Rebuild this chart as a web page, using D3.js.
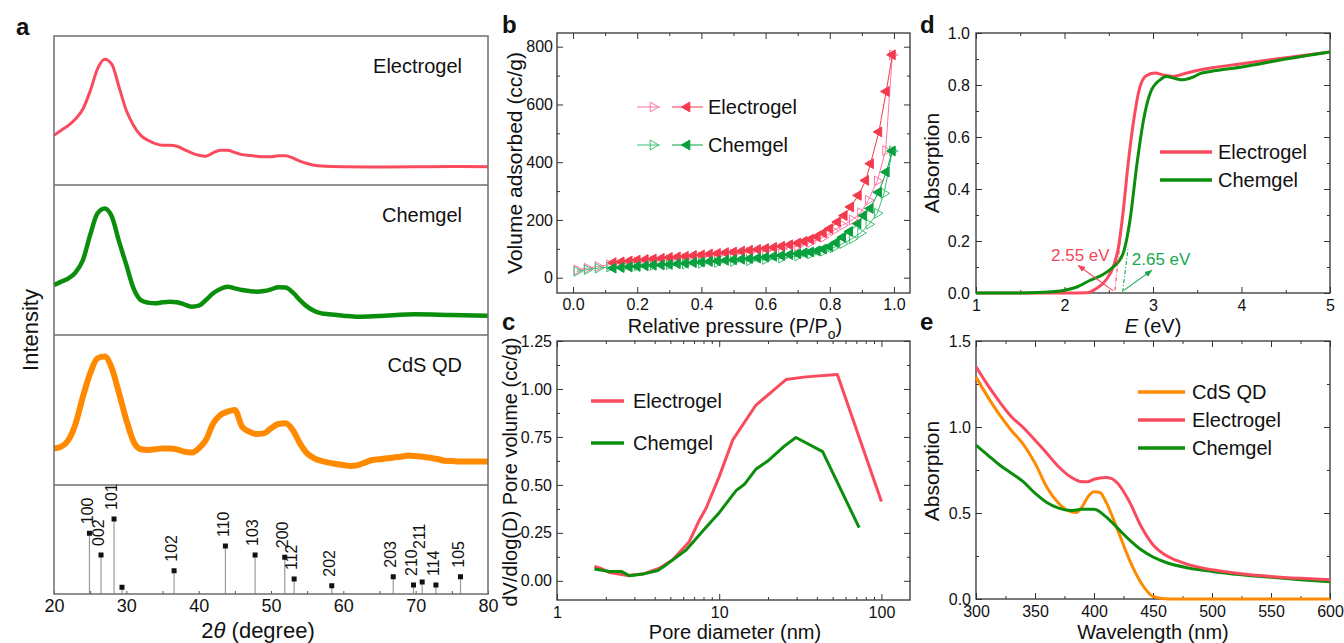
<!DOCTYPE html>
<meta charset="utf-8">
<html>
<head>
<style>
body { margin:0; background:#fff; }
svg { display:block; font-family: Arial, "Liberation Sans", sans-serif; }
</style>
</head>
<body>
<svg id="fig" width="1344" height="643"></svg>
<script src="https://cdn.jsdelivr.net/npm/d3@7/dist/d3.min.js"></script>
<script>

// ---- panel a : XRD ----
var electroAng = [20,21,22,23,24,25,26,27,28,29,30,31,32,33,34,35,36,37,38,39,40,41,42,43,44,45,46,47,48,49,50,51,52,53,54,55,56,57,60,65,70,75,80];
var electroInt = [33.3,36.7,40,44.4,51,63,77.8,84.4,81,65.6,50,40,33.3,30,27.8,26.7,26.7,26,23.8,21.6,20,19.3,21.6,23.3,23.3,21.8,20.4,19.8,19.3,18.9,18.9,19.6,19.6,18.2,16,14.4,13.3,12.7,12.2,12,12.2,12.4,12.2];
var chemAng = [20,21,22,23,24,25,26,27,28,29,30,31,32,33,34,35,36,37,38,39,40,41,42,43,44,45,46,47,48,49,50,51,52,53,54,55,56,57,58,60,62,65,70,75,80];
var chemInt = [33.3,35.6,37.8,41.8,50,66.7,81,84.4,78.9,62.2,46.7,31.1,23.3,21.6,21.1,21.8,22.2,21.8,20.4,18.9,19.6,23.3,27.8,30.7,32.2,31.1,30,29.3,28.9,29.3,30.4,31.8,31.6,28.4,23.3,18.9,16,14.4,13.8,12.9,12.2,12.7,13.8,13.3,12.9];
var cdsAng = [20,21,22,23,24,25,26,27,28,29,30,31,32,33,34,35,36,37,38,39,40,41,42,43,44,45,46,47,48,49,50,51,52,53,54,55,56,57,58,59,60,61,62,63,64,65,66,67,68,69,70,71,72,73,74,75,76,78,80];
var cdsInt = [24.4,25.6,30,41.1,58.9,74.4,84.4,85.6,77.8,61.1,43.3,28.9,23.8,23.3,23.8,24.4,24.4,23.8,22.2,21.6,24.4,30,41,46.7,48.9,50,38.9,35.6,34,34.4,37.8,40.7,41.1,36.7,27.8,21.1,17.8,16,14.9,14,13.3,12.7,13.3,14.9,16.7,17.1,17.8,18.4,18.9,19.6,19.3,18.9,18.2,17.3,16.2,16,15.6,15.6,15.6];

var refPos = [24.9,26.5,28.3,29.4,36.6,43.7,47.8,51.9,53.2,58.4,66.9,69.7,70.9,72.8,76.2];
var refInt = [81,52,100,9,31,64,52,49,20,11,23,12,16,12,23];
var refHkl = ["100","002","101","","102","110","103","200","112","202","203","210","211","114","105"];

// ---- panel b : N2 isotherms ----
var electroAdsP = [0.012,0.044,0.078,0.114,0.16,0.2,0.25,0.3,0.35,0.4,0.45,0.5,0.55,0.6,0.65,0.7,0.74,0.78,0.81,0.84,0.87,0.896,0.92,0.948,0.974,0.995];
var electroAdsV = [27,33,39,45,50,54,58,62,66,72,77,82,88,93,100,110,122,140,162,182,200,225,268,335,440,772];
var electroDesP = [0.995,0.976,0.953,0.927,0.912,0.889,0.865,0.845,0.824,0.8,0.78,0.76,0.74,0.72,0.7,0.675,0.65,0.625,0.6,0.575,0.55,0.525,0.5,0.475,0.45,0.425,0.4,0.375,0.35,0.325,0.3,0.275,0.25,0.225,0.2,0.175,0.15,0.125];
var electroDesV = [772,645,505,395,337,285,245,215,193,170,155,142,133,126,120,114,109,105,101,98,95,92,89,87,84,82,79,77,74,72,70,67,65,63,61,58,55,52];
var chemAdsP = [0.012,0.044,0.078,0.114,0.16,0.2,0.25,0.3,0.35,0.4,0.45,0.5,0.55,0.6,0.65,0.7,0.74,0.78,0.81,0.84,0.87,0.896,0.922,0.948,0.969,0.995];
var chemAdsV = [22,28,33,37,39,41,43,45,47,50,53,56,59,63,68,75,82,92,103,118,135,155,185,223,292,439];
var chemDesP = [0.995,0.976,0.952,0.926,0.906,0.888,0.862,0.84,0.82,0.8,0.78,0.76,0.74,0.72,0.7,0.675,0.65,0.625,0.6,0.575,0.55,0.525,0.5,0.475,0.45,0.425,0.4,0.375,0.35,0.325,0.3,0.275,0.25,0.225,0.2,0.175,0.15,0.125];
var chemDesV = [439,366,296,240,215,187,160,140,122,108,99,93,89,86,83,80,77,74,71,68,66,64,62,60,58,56,54,52,50,48,46,44,43,41,39,37,35,33];

// ---- panel c : pore size distribution ----
var electroPoreD = [1.7,1.85,2.11,2.73,3.38,4.28,5.17,6.55,7.55,8.3,10,12.1,16.8,25.8,34.2,53.5,100];
var electroPoreV = [0.075,0.066,0.043,0.028,0.035,0.066,0.11,0.205,0.317,0.378,0.543,0.733,0.915,1.049,1.063,1.075,0.413];
var chemPoreD = [1.7,2.11,2.49,2.8,3.38,4.18,4.7,6.25,8.3,10,12.7,14.3,16.8,19.9,25.2,29.7,43.4,72.9];
var chemPoreV = [0.062,0.049,0.049,0.026,0.035,0.054,0.083,0.161,0.279,0.355,0.47,0.503,0.581,0.624,0.702,0.747,0.673,0.277];

// ---- panel d : absorption vs energy ----
var electroE = [1,2.0,2.25,2.36,2.48,2.55,2.61,2.66,2.72,2.78,2.85,2.92,3.02,3.12,3.23,3.35,3.5,3.65,4.0,4.5,5.0];
var electroAbsE = [0,0,0.001,0.017,0.055,0.1,0.177,0.305,0.5,0.66,0.79,0.835,0.846,0.838,0.833,0.843,0.856,0.865,0.882,0.905,0.927];
var chemE = [1,1.5,1.76,1.99,2.14,2.29,2.44,2.55,2.66,2.74,2.82,2.89,2.97,3.08,3.15,3.25,3.34,3.45,3.53,3.65,4.02,4.5,5.0];
var chemAbsE = [0,0,0.003,0.01,0.023,0.049,0.072,0.1,0.15,0.28,0.5,0.66,0.77,0.82,0.833,0.825,0.82,0.83,0.844,0.852,0.87,0.9,0.927];

// ---- panel e : absorption vs wavelength ----
var cdsW = [300,310,320,330,340,350,360,370,380,385,390,395,400,405,410,420,430,440,450,460,470,500,600];
var cdsAbs = [1.29,1.175,1.07,0.98,0.9,0.79,0.65,0.557,0.508,0.503,0.537,0.595,0.624,0.619,0.566,0.402,0.228,0.093,0.015,0.002,0,0,0];
var electroW = [300,310,320,330,340,350,360,370,380,390,395,400,410,415,420,430,440,450,460,470,480,500,525,550,575,600];
var electroAbsW = [1.35,1.243,1.146,1.06,0.997,0.924,0.847,0.769,0.711,0.682,0.682,0.696,0.706,0.7,0.673,0.566,0.421,0.315,0.257,0.224,0.2,0.17,0.147,0.131,0.12,0.112];
var chemW = [300,310,320,330,340,350,360,370,380,390,400,410,420,430,440,450,460,480,500,525,550,575,600];
var chemAbsW = [0.895,0.837,0.779,0.731,0.682,0.615,0.561,0.528,0.514,0.522,0.522,0.479,0.412,0.344,0.286,0.244,0.215,0.18,0.16,0.141,0.126,0.112,0.1];

var red = "#fa4b5e", green = "#0b8e0b", orange = "#ff8a00";
var svg = d3.select("#fig");

function txt(x, y, s, size, opts) {
  opts = opts || {};
  var t = svg.append("text").attr("x", x).attr("y", y).attr("font-size", size)
    .attr("fill", opts.fill || "#111").attr("text-anchor", opts.anchor || "start").text(s);
  if (opts.bold) t.attr("font-weight", "bold");
  if (opts.rotate) t.attr("transform", "rotate(-90," + x + "," + y + ")");
  return t;
}

function frame(x, y, xMaj, xMin, yMaj, yMin, xFmt, yFmt, xPad, yPad) {
  var left = x.range()[0], right = x.range()[1], bottom = y.range()[0], top = y.range()[1];
  var g = svg.append("g");
  function ax(axis, tx, ty, vals, size, fmt, pad) {
    var a = g.append("g").attr("transform", "translate(" + tx + "," + ty + ")")
      .call(axis.tickValues(vals).tickSize(-size).tickPadding(pad || 5)
        .tickFormat(fmt || function() { return ""; }));
    a.attr("font-size", 16).attr("font-family", null);
    a.select(".domain").remove();
    a.selectAll("line").attr("stroke", "#333");
    a.selectAll("text").attr("fill", "#111");
  }
  ax(d3.axisBottom(x), 0, bottom, xMaj, 6, xFmt, xPad);
  ax(d3.axisBottom(x), 0, bottom, xMin, 3);
  ax(d3.axisTop(x), 0, top, xMaj, 6);
  ax(d3.axisTop(x), 0, top, xMin, 3);
  ax(d3.axisLeft(y), left, 0, yMaj, 6, yFmt, yPad);
  ax(d3.axisLeft(y), left, 0, yMin, 3);
  ax(d3.axisRight(y), right, 0, yMaj, 6);
  ax(d3.axisRight(y), right, 0, yMin, 3);
  g.append("rect").attr("x", left).attr("y", top).attr("width", right - left).attr("height", bottom - top)
    .attr("fill", "none").attr("stroke", "#333").attr("stroke-width", 1.3);
}

function curve(x, y, xs, ys, color, w, cv) {
  svg.append("path").datum(d3.zip(xs, ys))
    .attr("fill", "none").attr("stroke", color).attr("stroke-width", w)
    .attr("stroke-linejoin", "round")
    .attr("d", d3.line().x(function(d) { return x(d[0]); }).y(function(d) { return y(d[1]); })
      .curve(cv || d3.curveLinear));
}

// ================= panel a =================
var xa = d3.scaleLinear().domain([20, 80]).range([54, 488]);
var bands = [[36, 185], [185, 335], [335, 485]];
var traces = [
  {ang: electroAng, val: electroInt, c: red, w: 3, name: "Electrogel"},
  {ang: chemAng, val: chemInt, c: green, w: 4.5, name: "Chemgel"},
  {ang: cdsAng, val: cdsInt, c: orange, w: 6, name: "CdS QD"}
];
traces.forEach(function(t, i) {
  var y = d3.scaleLinear().domain([0, 100]).range([bands[i][1], bands[i][0]]);
  curve(xa, y, t.ang, t.val, t.c, t.w, d3.curveMonotoneX);
  txt(462, bands[i][0] + 37, t.name, 20, {anchor: "end"});
});

var yr = d3.scaleLinear().domain([0, 100]).range([594, 519]);
refPos.forEach(function(p, i) {
  svg.append("line").attr("x1", xa(p)).attr("x2", xa(p)).attr("y1", yr(0)).attr("y2", yr(refInt[i]))
    .attr("stroke", "#9a9a9a").attr("stroke-width", 1.2);
  svg.append("rect").attr("x", xa(p) - 2.5).attr("y", yr(refInt[i]) - 2.5).attr("width", 5).attr("height", 5)
    .attr("fill", "#111");
  if (refHkl[i]) {
    var ly = yr(refInt[i]) - 9 - (refHkl[i] == "211" ? 24 : 0);
    txt(xa(p), ly, refHkl[i], 16, {rotate: true}).attr("dy", "0.2em");
  }
});

var ga = svg.append("g").attr("transform", "translate(0,594)");
ga.call(d3.axisBottom(xa).tickValues([20, 30, 40, 50, 60, 70, 80]).tickSize(-3).tickPadding(5).tickFormat(d3.format("d")));
ga.attr("font-size", 18).attr("font-family", null);
ga.select(".domain").remove();
ga.selectAll("line").attr("stroke", "#555");
ga.selectAll("text").attr("fill", "#111");
var ga2 = svg.append("g").attr("transform", "translate(0,594)");
ga2.call(d3.axisBottom(xa).tickValues([25, 35, 45, 55, 65, 75]).tickSize(-3).tickFormat(function() { return ""; }));
ga2.select(".domain").remove();
ga2.selectAll("line").attr("stroke", "#555");

svg.append("rect").attr("x", 54).attr("y", 36).attr("width", 434).attr("height", 558)
  .attr("fill", "none").attr("stroke", "#6e6e6e").attr("stroke-width", 1.5);
[185, 335, 485].forEach(function(yy) {
  svg.append("line").attr("x1", 54).attr("x2", 488).attr("y1", yy).attr("y2", yy)
    .attr("stroke", "#6e6e6e").attr("stroke-width", 1.5);
});

var tt = txt(258, 638, "", 22, {anchor: "middle"});
tt.append("tspan").text("2");
tt.append("tspan").attr("font-style", "italic").text("\u03b8");
tt.append("tspan").text(" (degree)");
txt(38, 330, "Intensity", 22, {rotate: true, anchor: "middle"});

// ================= panel b =================
var xb = d3.scaleLinear().domain([-0.05, 1.05]).range([557, 910]);
var yb = d3.scaleLinear().domain([-53, 847.5]).range([293, 33]);
frame(xb, yb, [0, 0.2, 0.4, 0.6, 0.8, 1.0], [0.1, 0.3, 0.5, 0.7, 0.9],
  [0, 200, 400, 600, 800], [100, 300, 500, 700], d3.format(".1f"), d3.format("d"), 6, 4);

var tri = d3.symbol().type(d3.symbolTriangle).size(42);
function iso(ps, vs, color, filled, dir) {
  curve(xb, yb, ps, vs, color, 1);
  svg.append("g").selectAll("path").data(d3.zip(ps, vs)).enter().append("path")
    .attr("d", tri)
    .attr("transform", function(d) { return "translate(" + xb(d[0]) + "," + yb(d[1]) + ") rotate(" + dir + ")"; })
    .attr("fill", filled ? color : "none").attr("stroke", color).attr("stroke-width", 1);
}
var ePink = "#ff74a4", eRed = "#f43b4e", gLight = "#3cbf72", gDark = "#08a03e";
iso(electroAdsP, electroAdsV, ePink, false, 90);
iso(chemAdsP, chemAdsV, gLight, false, 90);
iso(electroDesP, electroDesV, eRed, true, -90);
iso(chemDesP, chemDesV, gDark, true, -90);

[[107, ePink, eRed, "Electrogel"], [145, gLight, gDark, "Chemgel"]].forEach(function(r) {
  svg.append("line").attr("x1", 637).attr("x2", 660).attr("y1", r[0]).attr("y2", r[0]).attr("stroke", r[1]);
  svg.append("path").attr("d", tri).attr("transform", "translate(653," + r[0] + ") rotate(90)")
    .attr("fill", "none").attr("stroke", r[1]);
  svg.append("line").attr("x1", 672).attr("x2", 703).attr("y1", r[0]).attr("y2", r[0]).attr("stroke", r[2]);
  svg.append("path").attr("d", tri).attr("transform", "translate(687," + r[0] + ") rotate(-90)")
    .attr("fill", r[2]).attr("stroke", r[2]);
  txt(708, r[0] + 7, r[3], 20);
});

var tb = txt(735, 333, "Relative pressure (P/P", 20, {anchor: "middle"});
tb.append("tspan").attr("font-size", 14).attr("dy", 6).text("o");
tb.append("tspan").attr("dy", -6).text(")");
txt(522, 163, "Volume adsorbed (cc/g)", 21, {rotate: true, anchor: "middle"});

// ================= panel c =================
var xc = d3.scaleLog().domain([1, 150]).range([557, 910]);
var yc = d3.scaleLinear().domain([-0.1, 1.25]).range([600, 341]);
var logMinor = [2, 3, 4, 5, 6, 7, 8, 9, 20, 30, 40, 50, 60, 70, 80, 90];
frame(xc, yc, [1, 10, 100], logMinor, [0, 0.25, 0.5, 0.75, 1.0, 1.25],
  [0.125, 0.375, 0.625, 0.875, 1.125], d3.format("d"), d3.format(".2f"), 7, 5);
curve(xc, yc, electroPoreD, electroPoreV, red, 3);
curve(xc, yc, chemPoreD, chemPoreV, green, 3);
[[401, red, "Electrogel"], [443, green, "Chemgel"]].forEach(function(r) {
  svg.append("line").attr("x1", 591).attr("x2", 624).attr("y1", r[0]).attr("y2", r[0])
    .attr("stroke", r[1]).attr("stroke-width", 3.5);
  txt(633, r[0] + 7, r[2], 20);
});
txt(735, 639, "Pore diameter (nm)", 20, {anchor: "middle"});
txt(517, 472, "dV/dlog(D) Pore volume (cc/g)", 20, {rotate: true, anchor: "middle"});

// ================= panel d =================
var xd = d3.scaleLinear().domain([1, 5]).range([976, 1330]);
var yd = d3.scaleLinear().domain([0, 1]).range([293, 33]);
frame(xd, yd, [1, 2, 3, 4, 5], [1.5, 2.5, 3.5, 4.5], [0, 0.2, 0.4, 0.6, 0.8, 1.0],
  [0.1, 0.3, 0.5, 0.7, 0.9], d3.format("d"), d3.format(".1f"), 7, 6);
curve(xd, yd, electroE, electroAbsE, red, 3, d3.curveMonotoneX);
curve(xd, yd, chemE, chemAbsE, green, 3, d3.curveMonotoneX);

var annRed = "#f4475c", annGreen = "#16a84c";
svg.append("defs").selectAll("marker").data([["arR", annRed], ["arG", annGreen]]).enter()
  .append("marker").attr("id", function(d) { return d[0]; })
  .attr("viewBox", "0 0 10 10").attr("refX", 9).attr("refY", 5)
  .attr("markerWidth", 7).attr("markerHeight", 7).attr("orient", "auto")
  .append("path").attr("d", "M0,1L10,5L0,9z").attr("fill", function(d) { return d[1]; });
function seg(p, q, color, dash, marker) {
  var l = svg.append("line").attr("x1", xd(p[0])).attr("y1", yd(p[1])).attr("x2", xd(q[0])).attr("y2", yd(q[1]))
    .attr("stroke", color).attr("stroke-width", 1.1);
  if (dash) l.attr("stroke-dasharray", "4,2,1,2");
  if (marker) l.attr("marker-end", "url(#" + marker + ")");
}
seg([2.57, 0.01], [2.646, 0.254], annRed, true);
seg([2.657, 0.004], [2.72, 0.177], annGreen, true);
seg([2.55, 0.008], [2.156, 0.106], annRed, false, "arR");
seg([2.67, 0.01], [2.985, 0.087], annGreen, false, "arG");
txt(xd(2.51), yd(0.123), "2.55 eV", 17, {anchor: "end", fill: annRed});
txt(xd(2.76), yd(0.109), "2.65 eV", 17, {fill: annGreen});

[[152, red, "Electrogel"], [180, green, "Chemgel"]].forEach(function(r) {
  svg.append("line").attr("x1", 1160).attr("x2", 1212).attr("y1", r[0]).attr("y2", r[0])
    .attr("stroke", r[1]).attr("stroke-width", 3.5);
  txt(1218, r[0] + 7, r[2], 20);
});
var td = txt(1153, 333, "", 20, {anchor: "middle"});
td.append("tspan").attr("font-style", "italic").text("E");
td.append("tspan").text(" (eV)");
txt(939, 163, "Absorption", 21, {rotate: true, anchor: "middle"});

// ================= panel e =================
var xe = d3.scaleLinear().domain([300, 600]).range([976, 1330]);
var ye = d3.scaleLinear().domain([0, 1.5]).range([599, 341]);
frame(xe, ye, [300, 350, 400, 450, 500, 550, 600], [325, 375, 425, 475, 525, 575],
  [0, 0.5, 1.0, 1.5], [0.25, 0.75, 1.25], d3.format("d"), d3.format(".1f"), 7, 5);
curve(xe, ye, cdsW, cdsAbs, orange, 3, d3.curveMonotoneX);
curve(xe, ye, chemW, chemAbsW, green, 3, d3.curveMonotoneX);
curve(xe, ye, electroW, electroAbsW, red, 3, d3.curveMonotoneX);
[[392, orange, "CdS QD"], [420, red, "Electrogel"], [448, green, "Chemgel"]].forEach(function(r) {
  svg.append("line").attr("x1", 1138).attr("x2", 1185).attr("y1", r[0]).attr("y2", r[0])
    .attr("stroke", r[1]).attr("stroke-width", 3.5);
  txt(1192, r[0] + 7, r[2], 20);
});
txt(1153, 639, "Wavelength (nm)", 20, {anchor: "middle"});
txt(939, 471, "Absorption", 21, {rotate: true, anchor: "middle"});

// panel letters
txt(16, 35, "a", 24, {bold: true});
txt(502, 33, "b", 24, {bold: true});
txt(502, 330, "c", 24, {bold: true});
txt(920, 33, "d", 24, {bold: true});
txt(920, 330, "e", 24, {bold: true});

</script>
</body>
</html>
